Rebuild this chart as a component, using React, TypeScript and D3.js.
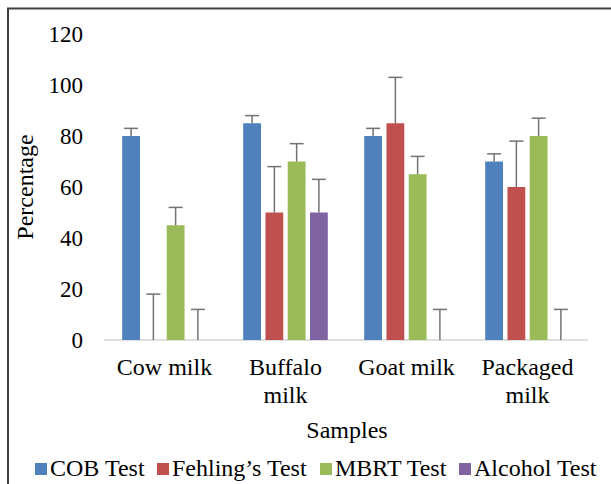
import React from "react";
import * as d3 from "d3";

const categories: string[][] = [["Cow milk"], ["Buffalo", "milk"], ["Goat milk"], ["Packaged", "milk"]];
const series = ["COB Test", "Fehling\u2019s Test", "MBRT Test", "Alcohol Test"];
const colors = ["#4F81BD", "#C0504D", "#9BBB59", "#8064A2"];
const cobValues = [80, 85, 80, 70];
const fehlingValues = [0, 50, 85, 60];
const mbrtValues = [45, 70, 65, 80];
const alcoholValues = [0, 50, 0, 0];
const cobErr = [3, 3, 3, 3];
const fehlingErr = [18, 18, 18, 18];
const mbrtErr = [7, 7, 7, 7];
const alcoholErr = [12, 13, 12, 12];
const yTicks = [0, 20, 40, 60, 80, 100, 120];

const values = [cobValues, fehlingValues, mbrtValues, alcoholValues];
const errors = [cobErr, fehlingErr, mbrtErr, alcoholErr];

const FONT = "'Liberation Serif', 'Times New Roman', serif";

export default function App() {
  const W = 611, H = 484;
  const catKeys = categories.map((c) => c.join(" "));
  const x0 = d3.scaleBand<string>().domain(catKeys).range([104, 588]).paddingInner(0.264).paddingOuter(0.132);
  const x1 = d3.scaleBand<string>().domain(series).range([0, x0.bandwidth()]).paddingInner(0.2).paddingOuter(0.1);
  const y = d3.scaleLinear().domain([0, 120]).range([340, 34]);

  const legendX = [35, 157, 320, 459];

  return (
    <svg width={W} height={H} style={{ position: "absolute", left: 0, top: 0, background: "#fff" }} fontFamily={FONT}>
      <rect x={8} y={8.5} width={700} height={600} fill="#fff" stroke="#404040" strokeWidth={2} />
      {yTicks.map((t) => (
        <text key={t} x={83} y={y(t)} dy="0.35em" textAnchor="end" fontSize={23} fill="#000">
          {t}
        </text>
      ))}
      <line x1={104} x2={588} y1={y(0)} y2={y(0)} stroke="#bfbfbf" strokeWidth={1} />
      {catKeys.map((c, ci) =>
        series.map((s, si) => {
          const v = values[si][ci];
          const e = errors[si][ci];
          const bx = (x0(c) as number) + (x1(s) as number);
          const cx = bx + x1.bandwidth() / 2;
          return (
            <g key={c + s}>
              {v > 0 && (
                <rect x={bx} y={y(v)} width={x1.bandwidth()} height={y(0) - y(v)} fill={colors[si]} />
              )}
              <line x1={cx} x2={cx} y1={y(v)} y2={y(v + e)} stroke="#737373" strokeWidth={1.5} />
              <line x1={cx - 7} x2={cx + 7} y1={y(v + e)} y2={y(v + e)} stroke="#737373" strokeWidth={1.5} />
            </g>
          );
        })
      )}
      {categories.map((lines, ci) => {
        const cx = (x0(catKeys[ci]) as number) + x0.bandwidth() / 2;
        return (
          <text key={ci} x={cx} y={375} textAnchor="middle" fontSize={24} fill="#000">
            {lines.map((l, li) => (
              <tspan key={li} x={cx} dy={li === 0 ? 0 : 28}>
                {l}
              </tspan>
            ))}
          </text>
        );
      })}
      <text x={347} y={438} textAnchor="middle" fontSize={24} fill="#000">
        Samples
      </text>
      <text transform={`translate(33, ${(y(0) + y(120)) / 2}) rotate(-90)`} textAnchor="middle" fontSize={24} fill="#000">
        Percentage
      </text>
      {series.map((s, si) => (
        <g key={s}>
          <rect x={legendX[si]} y={463} width={12} height={12} fill={colors[si]} />
          <text x={legendX[si] + 15} y={476} fontSize={24} fill="#000">
            {s}
          </text>
        </g>
      ))}
    </svg>
  );
}
